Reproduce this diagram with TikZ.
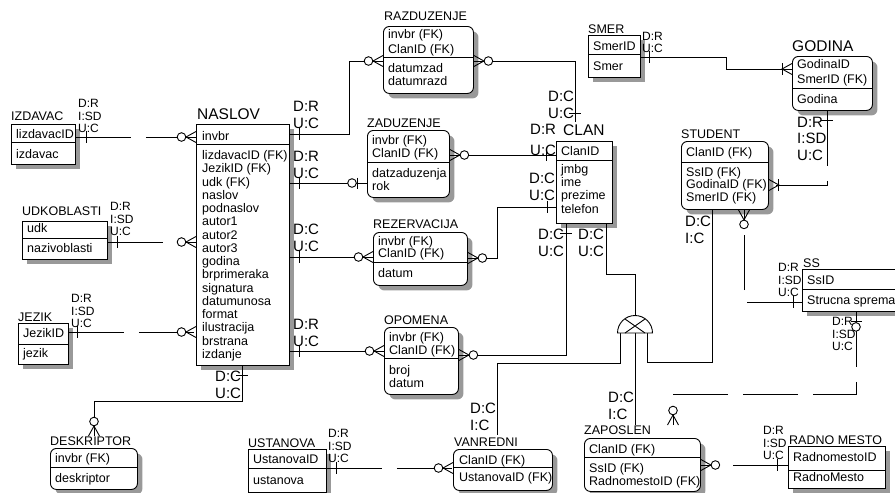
\documentclass[tikz,border=0pt]{standalone}
\usepackage{fontspec}
\setmainfont{Liberation Sans}
\usetikzlibrary{positioning, calc, shadows}

\begin{document}
\begin{tikzpicture}[x=1pt, y=-1pt,
    wire/.style={line width=0.9pt},
    nonid/.style={wire, dash pattern=on 55pt off 15pt},
    ent/.style={draw, line width=0.9pt, fill=white, inner sep=0pt, anchor=north west,
      general shadow={fill=black!40, shadow xshift=5pt, shadow yshift=-5pt}},
    dep/.style={ent, rounded corners=6pt},
    ttl/.style={font=\fontsize{12.5}{15}\selectfont, anchor=base west, inner sep=0pt},
    bigttl/.style={ttl, font=\fontsize{15.5}{18}\selectfont},
    att/.style={font=\fontsize{12.5}{15}\selectfont, anchor=base west, inner sep=0pt},
    lbl/.style={font=\fontsize{12}{12.5}\selectfont, anchor=south west, inner sep=0pt, align=left},
    biglbl/.style={lbl, font=\fontsize{15}{16.5}\selectfont},
    tick/.pic={\draw[wire] (0,-6) -- (0,6);},
    zmany/.pic={\draw[wire] (0,-5.5) -- (-10,0) -- (0,5.5);
      \draw[wire, fill=white] (-14.5,0) circle[radius=4.3pt];},
    zone/.pic={\draw[wire] (-10,-5.5) -- (-10,5.5);
      \draw[wire, fill=white] (-15,0) circle[radius=4.3pt];},
    onemany/.pic={\draw[wire] (0,-5.5) -- (-10,0) -- (0,5.5);
      \draw[wire] (-10,-6) -- (-10,6);}]
  \useasboundingbox (0,0) rectangle (895,493);

  % ================= entities =================
  % IZDAVAC
  \node[ent, minimum width=64pt, minimum height=40pt] (izdavac) at (11,124) {};
  \draw[wire] (izdavac.west |- 0,142) -- (izdavac.east |- 0,142);
  \node[ttl] (izdavacT) at (11,120.5) {IZDAVAC};
  \node[att] (izdavac1) at (16,138) {lizdavacID};
  \node[att] (izdavac2) at (16,158) {izdavac};
  % UDKOBLASTI
  \node[ent, minimum width=85pt, minimum height=38pt] (udkoblasti) at (22,221) {};
  \draw[wire] (udkoblasti.west |- 0,238) -- (udkoblasti.east |- 0,238);
  \node[ttl] (udkoblastiT) at (22,215.5) {UDKOBLASTI};
  \node[att] (udkoblasti1) at (27,232) {udk};
  \node[att] (udkoblasti2) at (27,252.5) {nazivoblasti};
  % JEZIK
  \node[ent, minimum width=50pt, minimum height=41pt] (jezik) at (18,323) {};
  \draw[wire] (jezik.west |- 0,344) -- (jezik.east |- 0,344);
  \node[ttl] (jezikT) at (18,321) {JEZIK};
  \node[att] (jezik1) at (23,337.5) {JezikID};
  \node[att] (jezik2) at (23,357) {jezik};
  % NASLOV
  \node[ent, minimum width=93pt, minimum height=241pt] (naslov) at (196,124) {};
  \draw[wire] (naslov.west |- 0,144) -- (naslov.east |- 0,144);
  \node[bigttl] (naslovT) at (197,119) {NASLOV};
  \node[att] (naslov0) at (202,140) {invbr};
  \foreach \t [count=\i] in {lizdavacID (FK), JezikID (FK), udk (FK), naslov, podnaslov,
      autor1, autor2, autor3, godina, brprimeraka, signatura, datumunosa, format,
      ilustracija, brstrana, izdanje}
    \node[att] (naslov\i) at (202,{159.5+13.25*(\i-1)}) {\t};
  % DESKRIPTOR
  \node[dep, minimum width=87pt, minimum height=41pt] (deskriptor) at (50,448) {};
  \draw[wire] (deskriptor.west |- 0,467) -- (deskriptor.east |- 0,467);
  \node[ttl] (deskriptorT) at (50,445) {DESKRIPTOR};
  \node[att] (deskriptor1) at (55,462.5) {invbr (FK)};
  \node[att] (deskriptor2) at (55,482.5) {deskriptor};
  % RAZDUZENJE
  \node[dep, minimum width=90pt, minimum height=67pt] (razduzenje) at (383,26) {};
  \draw[wire] (razduzenje.west |- 0,57) -- (razduzenje.east |- 0,57);
  \node[ttl] (razduzenjeT) at (384,20) {RAZDUZENJE};
  \foreach \y/\t [count=\i] in {38.5/invbr (FK), 53/ClanID (FK), 72.5/datumzad, 85.5/datumrazd}
    \node[att] (razduzenje\i) at (388,\y) {\t};
  % ZADUZENJE
  \node[dep, minimum width=82pt, minimum height=67pt] (zaduzenje) at (367,130) {};
  \draw[wire] (zaduzenje.west |- 0,162) -- (zaduzenje.east |- 0,162);
  \node[ttl] (zaduzenjeT) at (367,127.5) {ZADUZENJE};
  \foreach \y/\t [count=\i] in {144.5/invbr (FK), 157.5/ClanID (FK), 177.5/datzaduzenja, 190.5/rok}
    \node[att] (zaduzenje\i) at (372,\y) {\t};
  % REZERVACIJA
  \node[dep, minimum width=94pt, minimum height=53pt] (rezervacija) at (373,232) {};
  \draw[wire] (rezervacija.west |- 0,262) -- (rezervacija.east |- 0,262);
  \node[ttl] (rezervacijaT) at (373,228.5) {REZERVACIJA};
  \foreach \y/\t [count=\i] in {245/invbr (FK), 257.5/ClanID (FK), 277/datum}
    \node[att] (rezervacija\i) at (378,\y) {\t};
  % OPOMENA
  \node[dep, minimum width=74pt, minimum height=67pt] (opomena) at (384,327) {};
  \draw[wire] (opomena.west |- 0,358) -- (opomena.east |- 0,358);
  \node[ttl] (opomenaT) at (384,324) {OPOMENA};
  \foreach \y/\t [count=\i] in {341/invbr (FK), 354/ClanID (FK), 374.5/broj, 387/datum}
    \node[att] (opomena\i) at (389,\y) {\t};
  % CLAN
  \node[ent, minimum width=56pt, minimum height=82pt] (clan) at (556,141) {};
  \draw[wire] (clan.west |- 0,160) -- (clan.east |- 0,160);
  \node[bigttl] (clanT) at (563,135) {CLAN};
  \foreach \y/\t [count=\i] in {155.5/ClanID, 173/jmbg, 186/ime, 199.5/prezime, 213/telefon}
    \node[att] (clan\i) at (561,\y) {\t};
  % SMER
  \node[ent, minimum width=52pt, minimum height=42pt] (smer) at (588,35) {};
  \draw[wire] (smer.west |- 0,54) -- (smer.east |- 0,54);
  \node[ttl] (smerT) at (588,33) {SMER};
  \node[att] (smer1) at (593,50) {SmerID};
  \node[att] (smer2) at (593,70.5) {Smer};
  % GODINA
  \node[dep, minimum width=80pt, minimum height=54pt] (godina) at (792,56) {};
  \draw[wire] (godina.west |- 0,88) -- (godina.east |- 0,88);
  \node[bigttl] (godinaT) at (792,51) {GODINA};
  \foreach \y/\t [count=\i] in {68.5/GodinaID, 83.5/SmerID (FK), 103.5/Godina}
    \node[att] (godina\i) at (797,\y) {\t};
  % STUDENT
  \node[dep, minimum width=87pt, minimum height=68pt] (student) at (681,141) {};
  \draw[wire] (student.west |- 0,162) -- (student.east |- 0,162);
  \node[ttl] (studentT) at (681,138.5) {STUDENT};
  \foreach \y/\t [count=\i] in {156/ClanID (FK), 176/SsID (FK), 188.5/GodinaID (FK), 201/SmerID (FK)}
    \node[att] (student\i) at (686,\y) {\t};
  % SS
  \node[ent, minimum width=110pt, minimum height=42pt] (ss) at (802,269) {};
  \draw[wire] (ss.west |- 0,289) -- (ss.east |- 0,289);
  \node[ttl] (ssT) at (803,267) {SS};
  \node[att] (ss1) at (807,284.5) {SsID};
  \node[att] (ss2) at (807,304.5) {Strucna sprema};
  % USTANOVA
  \node[ent, minimum width=78pt, minimum height=43pt] (ustanova) at (248,449) {};
  \draw[wire] (ustanova.west |- 0,468) -- (ustanova.east |- 0,468);
  \node[ttl] (ustanovaT) at (248,447) {USTANOVA};
  \node[att] (ustanova1) at (253,463.5) {UstanovaID};
  \node[att] (ustanova2) at (253,484) {ustanova};
  % VANREDNI
  \node[dep, minimum width=99pt, minimum height=41pt] (vanredni) at (453,449) {};
  \draw[wire] (vanredni.west |- 0,467) -- (vanredni.east |- 0,467);
  \node[ttl] (vanredniT) at (454,446) {VANREDNI};
  \node[att] (vanredni1) at (459,464) {ClanID (FK)};
  \node[att] (vanredni2) at (459,481.5) {UstanovaID (FK)};
  % ZAPOSLEN
  \node[dep, minimum width=116pt, minimum height=53pt] (zaposlen) at (584,438) {};
  \draw[wire] (zaposlen.west |- 0,457) -- (zaposlen.east |- 0,457);
  \node[ttl] (zaposlenT) at (584,434) {ZAPOSLEN};
  \foreach \y/\t [count=\i] in {453.5/ClanID (FK), 472.5/SsID (FK), 485.5/RadnomestoID (FK)}
    \node[att] (zaposlen\i) at (589,\y) {\t};
  % RADNO MESTO
  \node[ent, minimum width=97pt, minimum height=42pt] (radnomesto) at (788,446) {};
  \draw[wire] (radnomesto.west |- 0,470) -- (radnomesto.east |- 0,470);
  \node[ttl] (radnomestoT) at (789,444) {RADNO MESTO};
  \node[att] (radnomesto1) at (793,461.5) {RadnomestoID};
  \node[att] (radnomesto2) at (793,481.5) {RadnoMesto};

  % ================= relationships =================
  % NASLOV and its parents
  \draw[nonid] (izdavac.east |- 0,137) -- (naslov.west |- 0,137);
  \pic at (86,137) {tick};
  \pic at (naslov.west |- 0,137) {zmany};
  \draw[nonid] (udkoblasti.east |- 0,242) -- (naslov.west |- 0,242);
  \pic at (117,242) {tick};
  \pic at (naslov.west |- 0,242) {zmany};
  \draw[nonid] (jezik.east |- 0,332) -- (naslov.west |- 0,332);
  \pic at (77,332) {tick};
  \pic at (naslov.west |- 0,332) {zmany};
  % NASLOV to its children
  \coordinate (deskE) at ($(deskriptor.north -| 94,0)+(0,-12)$);
  \draw[wire] (naslov.south -| 242,0) |- (94,401) -- (deskE);
  \pic[rotate=90] at (242,375) {tick};
  \pic[rotate=-90] at (deskE) {zmany};
  \draw[wire] (naslov.east |- 0,134) -| (349,61) -- (razduzenje.west |- 0,61);
  \pic at (299,134) {tick};
  \pic at (razduzenje.west |- 0,61) {zmany};
  \draw[wire] (naslov.east |- 0,183) -- (zaduzenje.west |- 0,183);
  \pic at (299,183) {tick};
  \pic at (zaduzenje.west |- 0,183) {zone};
  \draw[wire] (naslov.east |- 0,257) -- (rezervacija.west |- 0,257);
  \pic at (299,257) {tick};
  \pic at (rezervacija.west |- 0,257) {zmany};
  \draw[wire] (naslov.east |- 0,351) -- (opomena.west |- 0,351);
  \pic at (299,351) {tick};
  \pic at (opomena.west |- 0,351) {zmany};
  % CLAN to its children
  \coordinate (clanTop) at ($(clan.north -| 575,0)+(0,-19)$);
  \draw[wire] (razduzenje.east |- 0,61) -| (clanTop);
  \pic[rotate=90] at (575,113) {tick};
  \pic[rotate=180] at (razduzenje.east |- 0,61) {zmany};
  \draw[wire] (clan.west |- 0,155) -- (zaduzenje.east |- 0,155);
  \pic at (546,155) {tick};
  \pic[rotate=180] at (zaduzenje.east |- 0,155) {zmany};
  \draw[wire] (clan.west |- 0,207) -| (497,258) -- (rezervacija.east |- 0,258);
  \pic at (547,207) {tick};
  \pic[rotate=180] at (rezervacija.east |- 0,258) {zmany};
  \draw[wire] (clan.south -| 566,0) |- (opomena.east |- 0,355);
  \pic[rotate=90] at (566,233) {tick};
  \pic[rotate=180] at (opomena.east |- 0,355) {zmany};
  % category: CLAN -> VANREDNI, ZAPOSLEN, STUDENT
  \coordinate (cat) at (635,333);
  \draw[wire] (clan.south -| 606,0) |- (635,274) -- ($(cat)+(0,-17.5)$);
  \draw[wire] ($(cat)+(-15,0)$) |- (497,363) -- ($(vanredni.north -| 497,0)+(0,-14)$);
  \draw[wire] (cat) -- ($(zaposlen.north -| 635,0)+(0,-13)$);
  \draw[wire] ($(cat)+(12,0)$) |- (712,362) -- (student.south -| 712,0);
  \draw[wire, fill=white] ($(cat)+(-17.5,0)$) arc[start angle=180, end angle=0, radius=17.5pt] -- cycle;
  \draw[wire] ($(cat)+(-10,-14)$) -- ($(cat)+(10,0)$)
              ($(cat)+(10,-14)$) -- ($(cat)+(-10,0)$);
  % SMER, GODINA, STUDENT
  \draw[wire] (smer.east |- 0,57) -| (726,69) -- (godina.west |- 0,69);
  \pic at (649,57) {tick};
  \pic at (godina.west |- 0,69) {onemany};
  \draw[nonid] (godina.south -| 827,0) |- (student.east |- 0,185);
  \pic[rotate=90] at (827,120) {tick};
  \pic[rotate=180] at (student.east |- 0,185) {onemany};
  % SS to STUDENT and ZAPOSLEN
  \draw[nonid] (ss.west |- 0,302) -| (student.south -| 744,0);
  \pic at (793,302) {tick};
  \pic[rotate=90] at (student.south -| 744,0) {zmany};
  \coordinate (zapTop) at ($(zaposlen.north -| 673,0)+(0,-13)$);
  \draw[nonid] (ss.south -| 856,0) |- (zapTop |- 0,394) -- (zapTop);
  \pic[rotate=90] at (ss.south -| 856,0) {zone};
  \pic[rotate=-90] at (zapTop) {zmany};
  % USTANOVA, RADNO MESTO
  \draw[nonid] (ustanova.east |- 0,468) -- (vanredni.west |- 0,468);
  \pic at (336,468) {tick};
  \pic at (vanredni.west |- 0,468) {zmany};
  \draw[nonid] (radnomesto.west |- 0,465) -- (zaposlen.east |- 0,465);
  \pic at (777,465) {tick};
  \pic[rotate=180] at (zaposlen.east |- 0,465) {zmany};

  % ================= rule labels =================
  \node[lbl] (lIzdavac) at (78,133.3) {D:R\\I:SD\\U:C};
  \node[lbl] (lUdk) at (110,236.3) {D:R\\I:SD\\U:C};
  \node[lbl] (lJezik) at (71,328.3) {D:R\\I:SD\\U:C};
  \node[lbl] (lSmer) at (642,53.3) {D:R\\U:C};
  \node[lbl] (lSsStudent) at (778,297.3) {D:R\\I:SD\\U:C};
  \node[lbl] (lSsZaposlen) at (832,351.3) {D:R\\I:SD\\U:C};
  \node[lbl] (lUstanova) at (328,463.3) {D:R\\I:SD\\U:C};
  \node[lbl] (lRadno) at (763,460.3) {D:R\\I:SD\\U:C};
  \node[biglbl] (lRaz) at (293,128.4) {D:R\\U:C};
  \node[biglbl] (lZad) at (293,178.4) {D:R\\U:C};
  \node[biglbl] (lRez) at (293,251.4) {D:C\\U:C};
  \node[biglbl] (lOpo) at (293,346.4) {D:R\\U:C};
  \node[biglbl] (lDesk) at (215,398.4) {D:C\\U:C};
  \node[biglbl] (lRazClan) at (548,118.4) {D:C\\U:C};
  \node[biglbl] (lZadClan) at (530,155.5) {D:R\\[4pt]U:C};
  \node[biglbl] (lRezClan) at (529,200.4) {D:C\\U:C};
  \node[biglbl] (lOpoClan) at (538,256.4) {D:C\\U:C};
  \node[biglbl] (lCat) at (578,256.4) {D:C\\U:C};
  \node[biglbl] (lVan) at (470,430.4) {D:C\\I:C};
  \node[biglbl] (lZap) at (608,419.4) {D:C\\I:C};
  \node[biglbl] (lStu) at (685,243.4) {D:C\\I:C};
  \node[biglbl] (lGod) at (797,160.4) {D:R\\I:SD\\U:C};
\end{tikzpicture}
\end{document}
